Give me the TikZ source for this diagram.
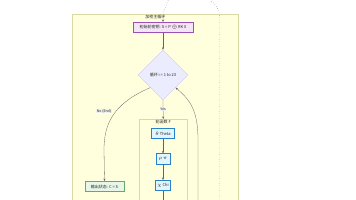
\documentclass[tikz,border=0pt]{standalone}
\usepackage{fontspec}
\setmainfont{Liberation Sans}
\newfontfamily\cjk{Noto Sans CJK SC}
\usetikzlibrary{shapes.geometric,arrows.meta,positioning}

\definecolor{mmyellow}{RGB}{255, 255, 222}
\definecolor{mmolive}{RGB}{170, 170, 51}
\definecolor{mmlav}{RGB}{236, 236, 255}
\definecolor{mmpurple}{RGB}{147, 112, 219}
\definecolor{mmviolet}{RGB}{156, 80, 182}
\definecolor{mmpink}{RGB}{243, 229, 245}
\definecolor{mmblue}{RGB}{40, 130, 200}
\definecolor{mmsky}{RGB}{225, 245, 254}
\definecolor{mmgreen}{RGB}{102, 170, 102}
\definecolor{mmmint}{RGB}{232, 245, 233}
\definecolor{mmgray}{RGB}{100, 100, 100}

\begin{document}
\begin{tikzpicture}[
    x=1pt, y=-1pt,
    font=\cjk\fontsize{4}{5}\selectfont,
    text=black!85,
    cluster/.style={draw=mmolive!45, fill=mmyellow, line width=0.5pt, inner sep=0pt},
    box/.style={draw, line width=0.5pt, inner sep=1.2pt, minimum height=10.5pt},
    decision/.style={diamond, draw=mmpurple!40, fill=mmlav, aspect=1,
      minimum width=50pt, minimum height=50pt, inner sep=0pt, line width=0.4pt},
    flow/.style={draw=mmgray, line width=0.3pt, -{Stealth[length=2.5pt,width=2pt]}},
    loopback/.style={draw=mmgray, line width=0.4pt, dotted},
    edgelabel/.style={fill=gray!12, inner sep=0.5pt, font=\cjk\fontsize{3.5}{4}\selectfont},
  ]
    \useasboundingbox (0,0) rectangle (356,200);
    \fill[white] (0,0) rectangle (356,200);
    \clip (0,0) rectangle (356,200);

    % --- outer cluster: main loop ---
    \node[cluster, anchor=north west, minimum width=166pt, minimum height=200pt]
      (mainloop) at (72,14) {};
    \node[anchor=north, inner sep=1pt] (maintitle) at (mainloop.north) {加密主循环};

    \node[box, draw=mmviolet, fill=mmpink, minimum width=60pt] (init) at (163,27.5)
      {初始轮密钥: S = P $\oplus$ RK 0};
    \node[decision] (round) at (163,75) {循环 i = 1 to 23};
    \node[box, draw=mmgreen, fill=mmmint, minimum width=39pt] (output) at (104.5,186.5)
      {输出状态: C = S};

    % --- inner cluster: round function ---
    \node[cluster, anchor=north west, minimum width=48pt, minimum height=100pt]
      (roundfn) at (139,119) {};
    \node[anchor=north, inner sep=1pt] (roundtitle) at (roundfn.north) {轮函数 F};

    \node[box, draw=mmblue, fill=mmsky, minimum width=23pt] (theta) at (163,133.5) {$\theta$ Theta};
    \node[box, draw=mmblue, fill=mmsky, minimum width=14pt] (rhopi) at (163,159) {$\rho$ $\pi$};
    \node[box, draw=mmblue, fill=mmsky, minimum width=15pt] (chi) at (163,185.5) {$\chi$ Chi};

    % free ends outside the frame
    \coordinate (chiout) at (163,210);
    \coordinate (backin) at (198,210);
    \coordinate (feedin) at (170,-4);
    \coordinate (feedout) at (205,-4);
    \coordinate (feedlow) at (219.5,210);

    % --- connectors ---
    \draw[flow] (init) -- (round);
    \draw[flow] (round.south) -- node[edgelabel] {Yes} (roundfn.north);
    \draw[flow] (round.south west) .. controls (112,104) and (104,125) .. (104,150)
      -- (output.north);
    \node[edgelabel] (nolabel) at (104,111) {No (End)};
    \draw[flow] (theta) -- (rhopi);
    \draw[flow] (rhopi) -- (chi);
    \draw[draw=mmgray, line width=0.3pt] (chi) -- (chiout);
    \draw[flow] (backin) -- (198,140) .. controls (198,110) and (190,100) .. (round.south east);

    \draw[loopback, -{Stealth[length=2.5pt,width=2pt]}] (feedin) .. controls (166,6) and (163,10) .. (init.north);
    \draw[loopback] (feedlow) -- (219.5,16) .. controls (219.5,6) and (212,2) .. (feedout);
  \end{tikzpicture}
\end{document}
